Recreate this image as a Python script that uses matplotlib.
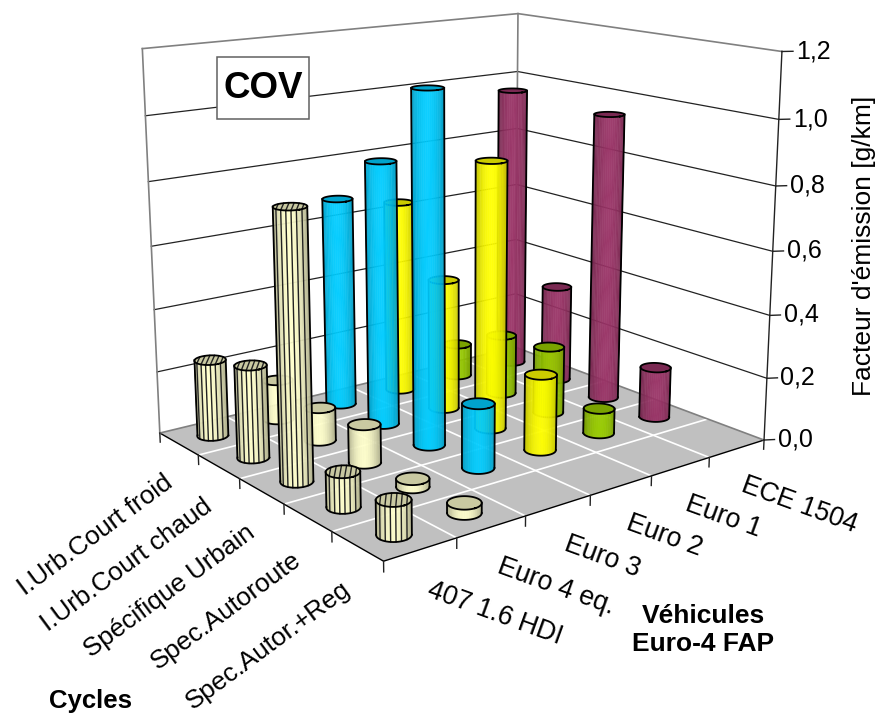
import numpy as np
import matplotlib
matplotlib.use('Agg')
import matplotlib.pyplot as plt
from matplotlib.patches import Rectangle
from mpl_toolkits.mplot3d import proj3d
from mpl_toolkits.mplot3d.art3d import Poly3DCollection

plt.rcParams['font.family'] = 'Liberation Sans'

cycles = ['I.Urb.Court froid', 'I.Urb.Court chaud', 'Spécifique Urbain', 'Spec.Autoroute', 'Spec.Autor.+Reg']
vehicles = ['407 1.6 HDI', 'Euro 4 eq.', 'Euro 3', 'Euro 2', 'Euro 1', 'ECE 1504']
hdi = [0.245, 0.29, 0.815, 0.105, 0.10]
euro4 = [0.13, 0.105, 0.12, 0.025, 0.03]
euro3 = [0.685, 0.845, 1.10, 0.20, 0.0]
euro2 = [0.64, 0.43, 0.855, 0.24, 0.0]
euro1 = [0.11, 0.20, 0.22, 0.08, 0.0]
ece = [0.96, 0.325, 0.945, 0.165, 0.0]
series = [hdi, euro4, euro3, euro2, euro1, ece]
yticks = [0.0, 0.2, 0.4, 0.6, 0.8, 1.0, 1.2]
yticklabels = ['0,0', '0,2', '0,4', '0,6', '0,8', '1,0', '1,2']

side_col = ['#FFFFCC', '#FFFFCC', '#00CCFF', '#FFFF00', '#99CC00', '#993366']
top_col = ['#C9C9A1', '#C9C9A1', '#00A3CC', '#CCCC00', '#7AA300', '#7A2952']

W, H = 877, 713
ELEV, AZIM, FOCAL = 14.341, -37.942, 0.448
SCALE, TX, TY = 3875.3, 460.26, 248.77
R = 0.2

fig = plt.figure(figsize=(W/100, H/100), dpi=100)
ax = fig.add_axes([0, 0, 1, 1], projection='3d', computed_zorder=False)
ax.set_xlim(0, 5)
ax.set_ylim(0, 6)
ax.set_zlim(0, 1.2)
ax.set_axis_off()
ax.view_init(elev=ELEV, azim=AZIM)
ax.set_proj_type('persp', focal_length=FOCAL)
ax.set_box_aspect((0.999, 1.198, 1))
# put the axes so that the floor and walls land on the same pixels
x0, x1 = ax.viewLim.intervalx
y0, y1 = ax.viewLim.intervaly
ax.set_position([(TX + SCALE*x0)/W, (H - TY + SCALE*y0)/H, SCALE*(x1-x0)/W, SCALE*(y1-y0)/H])

az = np.radians(AZIM)
view = np.array([np.cos(az), np.sin(az)])
perp = np.array([-np.sin(az), np.cos(az)])


def label(x, y, z, s, dx=0, dy=0, size=18, **kw):
    # Text3D drops the rotation, so project the anchor and use plain 2D text
    u, v, _ = proj3d.proj_transform(x, y, z, ax.get_proj())
    ax.text2D(u + dx/SCALE, v - dy/SCALE, s, transform=ax.transData, fontsize=size, zorder=50, **kw)


# floor
ax.add_collection3d(Poly3DCollection([[(0, 0, 0), (5, 0, 0), (5, 6, 0), (0, 6, 0)]],
                                     facecolor='#C0C0C0', edgecolor='none', zorder=1))
for i in range(1, 5):
    ax.plot([i, i], [0, 6], [0, 0], color='white', lw=1.2, zorder=2)
for j in range(1, 6):
    ax.plot([0, 5], [j, j], [0, 0], color='white', lw=1.2, zorder=2)
ax.plot([0, 5, 5], [0, 0, 6], [0, 0, 0], color='black', lw=1, zorder=3)
ax.plot([0, 0, 5], [0, 6, 6], [0, 0, 0], color='#808080', lw=1.2, zorder=3)

# walls
for z in yticks[1:-1]:
    ax.plot([0, 0, 5], [0, 6, 6], [z, z, z], color='#222222', lw=0.9, zorder=3)
ax.plot([0, 0, 5], [0, 6, 6], [1.2, 1.2, 1.2], color='#808080', lw=1.2, zorder=3)
ax.plot([0, 0], [0, 0], [0, 1.2], color='#808080', lw=1.2, zorder=3)
ax.plot([0, 0], [6, 6], [0, 1.2], color='#808080', lw=1.2, zorder=3)
ax.plot([5, 5], [6, 6], [0, 1.2], color='#222222', lw=1, zorder=3)

# ticks and labels
for z, lab in zip(yticks, yticklabels):
    ax.plot([5, 5.07], [6, 6.12], [z, z], color='#222222', lw=1, zorder=3)
    label(5.09, 6.155, z, lab, ha='left', va='center')
for i in range(0, 6):
    ax.plot([i, i], [0, 0], [0, -0.03], color='#222222', lw=1, zorder=3)
for j in range(1, 7):
    ax.plot([5, 5], [j, j], [0, -0.03], color='#222222', lw=1, zorder=3)
for i, lab in enumerate(cycles):
    label(i+0.5, 0, -0.1, lab, dx=-10, dy=6, size=18.8, ha='right', va='center', rotation=36.5,
          rotation_mode='anchor')
for j, lab in enumerate(vehicles):
    label(5, j+0.5, -0.1, lab, dx=7, dy=5, size=19.2, ha='left', va='center', rotation=-20,
          rotation_mode='anchor')


def cylinder(cx, cy, h, col, topc, order, edge, striped):
    c = np.array([cx, cy])
    th = np.linspace(az - np.pi/2, az + np.pi/2, 25)
    ring = np.c_[cx + R*np.cos(th), cy + R*np.sin(th)]
    base = np.array(matplotlib.colors.to_rgb(col))
    polys = []
    cols = []
    for k in range(len(th)-1):
        a, b = ring[k], ring[k+1]
        polys.append([(a[0], a[1], 0), (b[0], b[1], 0), (b[0], b[1], h), (a[0], a[1], h)])
        t = np.sin((th[k]+th[k+1])/2 - az)
        cols.append(tuple(base*(edge + (1-edge)*(1-t*t))))
    side = Poly3DCollection(polys, facecolors=cols, edgecolors=cols, linewidths=0.3,
                            alpha=0.95, zorder=order)
    ax.add_collection3d(side)
    th2 = np.linspace(0, 2*np.pi, 61)
    top = [(cx + R*np.cos(t), cy + R*np.sin(t), h) for t in th2]
    ax.add_collection3d(Poly3DCollection([top], facecolor=topc, edgecolor='none', zorder=order+0.1))
    if striped:
        for t in [-0.75, -0.45, -0.15, 0.15, 0.45, 0.75]:
            d = np.sqrt(1-t*t)
            p = c + R*(t*perp + d*view)
            q = c + R*(t*perp - d*view)
            ax.plot([p[0], p[0]], [p[1], p[1]], [0, h], color='#222222', lw=1, zorder=order+0.2)
            ax.plot([p[0], q[0]], [p[1], q[1]], [h, h], color='#222222', lw=1, zorder=order+0.2)
    ax.plot(ring[:, 0], ring[:, 1], 0*ring[:, 0], color='black', lw=1.3, zorder=order+0.3)
    ax.plot([t[0] for t in top], [t[1] for t in top], [h]*len(top), color='black', lw=1.3, zorder=order+0.3)
    for e in (ring[0], ring[-1]):
        ax.plot([e[0], e[0]], [e[1], e[1]], [0, h], color='black', lw=1.3, zorder=order+0.3)


# bars, farthest first
bars = []
for j, vals in enumerate(series):
    for i, v in enumerate(vals):
        if v > 0:
            bars.append((np.dot([i+0.5, j+0.5], view), i, j, v))
bars.sort()
for n, (d, i, j, v) in enumerate(bars):
    cylinder(i+0.5, j+0.5, v, side_col[j], top_col[j], 10+n, 0.66 if j < 2 else 0.74, j == 0)

ax.set_xlim(0, 5)
ax.set_ylim(0, 6)
ax.set_zlim(0, 1.2)

fig.text(864/W, 1-246/H, "Facteur d'émission [g/km]", fontsize=19, rotation=90, ha='center', va='center')
fig.text(703/W, 1-630/H, 'Véhicules\nEuro-4 FAP', fontsize=19, fontweight='bold', ha='center', va='center', linespacing=1.2)
fig.text(90/W, 1-701/H, 'Cycles', fontsize=18.5, fontweight='bold', ha='center', va='center')
fig.add_artist(Rectangle((217/W, 1-119/H), 92/W, 62/H, transform=fig.transFigure, facecolor='white',
                         edgecolor='#606060', lw=1.1, zorder=60))
fig.text(263/W, 1-88/H, 'COV', fontsize=26.5, fontweight='bold', ha='center', va='center', zorder=61)
fig.savefig('out.png', dpi=100)
